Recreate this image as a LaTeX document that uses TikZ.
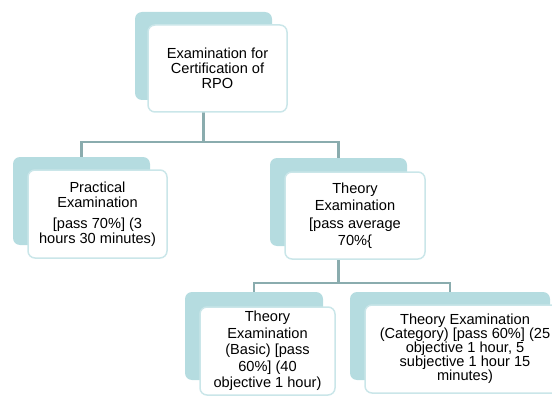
\documentclass[tikz,border=0pt]{standalone}
\usepackage{fontspec}
\setmainfont{Liberation Sans}
\usepackage{tikz}

\definecolor{tealback}{RGB}{181,220,224}
\definecolor{tealedge}{RGB}{202,230,233}
\definecolor{connline}{RGB}{138,172,174}

\begin{document}
\begin{tikzpicture}[x=1pt,y=-1pt,
    backbox/.style={fill=tealback,rounded corners=7pt,inner sep=0pt,minimum width=137pt,minimum height=88pt},
    frontbox/.style={fill=white,draw=tealedge,line width=1.5pt,rounded corners=7pt,inner sep=0pt,
        minimum width=139pt,minimum height=87pt,align=center,font=\fontsize{14.6}{15}\selectfont},
    conn/.style={draw=connline,line width=2.2pt}]
            \useasboundingbox (0,0) rectangle (552,396);
            % back boxes:
            \node[backbox] (topb) at (203.5,56) {};
            \node[backbox] (pracb) at (81.5,201) {};
            \node[backbox] (theob) at (338.5,202) {};
            \node[backbox,minimum width=138pt] (basb) at (254,336) {};
            \node[backbox,minimum width=200pt] (catb) at (450,336) {};

            % connectors:
            \draw[conn] (topb.south) -- ++(0,42) -| (pracb.north);
            \draw[conn] (topb.south) -- ++(0,42) -| (theob.north);
            \draw[conn] (theob.south) -- ++(0,37) -| (basb.north);
            \draw[conn] (theob.south) -- ++(0,37) -| (catb.north);

            % front boxes with text:
            \node[frontbox] (topf) at (217.5,68.5) {Examination for\\Certification of\\RPO};
            \node[frontbox,minimum height=88pt] (pracf) at (97.5,214)
                {Practical\\Examination\\[6pt]{}[pass 70\%] (3\\hours 30 minutes)};
            \node[frontbox,minimum width=140pt,font=\fontsize{14.6}{17.5}\selectfont] (theof) at (355,215.5)
                {Theory\\Examination\\{}[pass average\\70\%\{};
            \node[frontbox,minimum width=135pt,minimum height=88pt,font=\fontsize{14.6}{16.5}\selectfont] (basf) at (267.5,351)
                {Theory\\Examination\\(Basic) [pass\\60\%] (40\\objective 1 hour)};
            \node[frontbox,minimum width=200pt,minimum height=88pt,font=\fontsize{14.6}{14}\selectfont] (catf) at (465,349)
                {Theory Examination\\(Category) [pass 60\%] (25\\objective 1 hour, 5\\subjective 1 hour 15\\minutes)};
\end{tikzpicture}
\end{document}
